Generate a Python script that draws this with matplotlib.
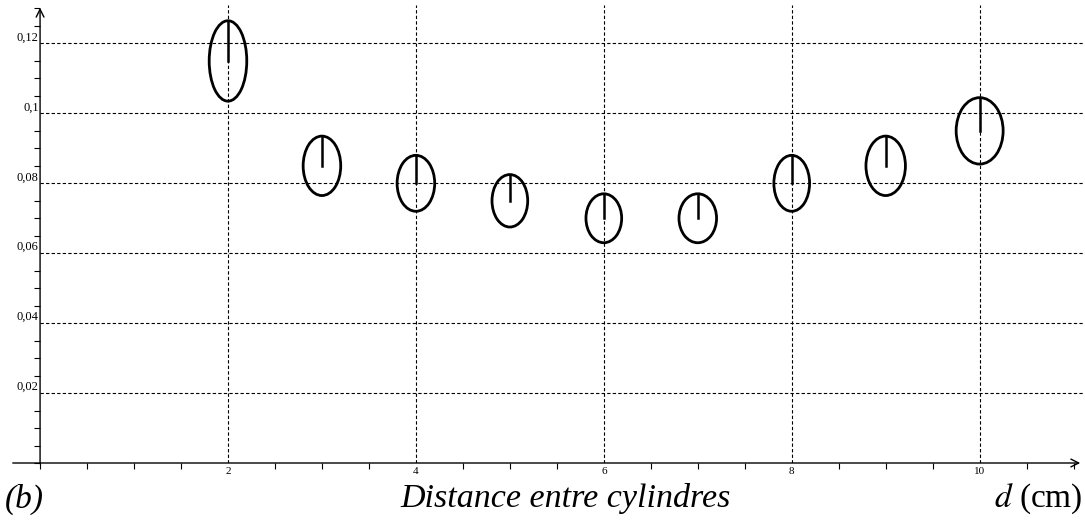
import matplotlib.pyplot as plt
from matplotlib.patches import Ellipse
from matplotlib.ticker import MultipleLocator, FuncFormatter

# data
d_cm = [2, 3, 4, 5, 6, 7, 8, 9, 10]
valeur = [0.115, 0.085, 0.080, 0.075, 0.070, 0.070, 0.080, 0.085, 0.095]
err_y = [0.0115, 0.0085, 0.0080, 0.0075, 0.0070, 0.0070, 0.0080, 0.0085, 0.0095]
err_x = [0.20, 0.20, 0.20, 0.19, 0.19, 0.20, 0.19, 0.21, 0.25]

y_ticks = [0.02, 0.04, 0.06, 0.08, 0.10, 0.12]
x_ticks = [2, 4, 6, 8, 10]

plt.rcParams['font.family'] = ['Liberation Serif', 'DejaVu Serif']
plt.rcParams['mathtext.fontset'] = 'stix'

fig = plt.figure(figsize=(10.85, 5.24), dpi=100)
ax = fig.add_axes([10 / 1085, 61 / 524, 1073 / 1085, 458 / 524])
ax.set_xlim(-0.32, 11.1)
ax.set_ylim(0, 0.131)

for s in ax.spines.values():
    s.set_visible(False)
ax.spines['left'].set_position(('data', 0))

# axes with arrows
ax.annotate('', xy=(11.1, 0), xytext=(-0.32, 0),
            arrowprops=dict(arrowstyle='->', lw=1.0, color='black', mutation_scale=14))
ax.annotate('', xy=(0, 0.131), xytext=(0, -0.001),
            arrowprops=dict(arrowstyle='->', lw=1.0, color='black', mutation_scale=14))

# dashed grid
for yt in y_ticks:
    ax.plot([0, 11.1], [yt, yt], ls=(0, (3, 2)), color='black', lw=0.8)
for xt in x_ticks:
    ax.plot([xt, xt], [0, 0.131], ls=(0, (3, 2)), color='black', lw=0.8)

# ticks
ax.xaxis.set_minor_locator(MultipleLocator(0.5))
ax.yaxis.set_minor_locator(MultipleLocator(0.005))
ax.set_xticks(x_ticks)
ax.set_yticks(y_ticks)
ax.set_xticklabels([str(v) for v in x_ticks], fontsize=8)
ax.yaxis.set_major_formatter(FuncFormatter(lambda v, p: ('%g' % round(v, 3)).replace('.', ',')))
ax.tick_params(axis='y', which='both', length=4, width=0.8, labelsize=9, pad=1)
ax.tick_params(axis='x', which='both', length=4, width=0.8, pad=3)
ax.tick_params(axis='y', which='major', length=0)
ax.tick_params(axis='x', which='major', length=0)
for lab in ax.get_yticklabels():
    lab.set_verticalalignment('bottom')

# ellipses with a small stroke from centre to top
for x, y, ex, ey in zip(d_cm, valeur, err_x, err_y):
    ax.add_patch(Ellipse((x, y), 2 * ex, 2 * ey, fill=False, lw=2.0, ec='black', zorder=3))
    ax.plot([x, x], [y, y + ey], color='black', lw=1.8, zorder=3)

ty = 1 - 499 / 524
fig.text(5 / 1085, ty, '(b)', fontsize=24, style='italic', va='center', ha='left')
fig.text(566 / 1085, ty, 'Distance entre cylindres', fontsize=24.5, style='italic',
         va='center', ha='center')
fig.text(1083 / 1085, ty, r'$\mathit{d}$ (cm)', fontsize=24, va='center', ha='right')

fig.savefig('out.png', dpi=100)
